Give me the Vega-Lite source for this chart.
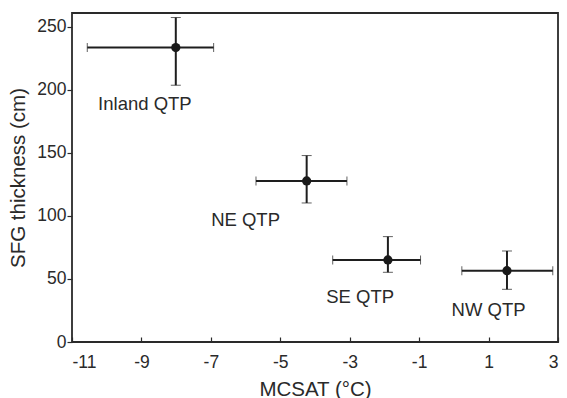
{
  "$schema": "https://vega.github.io/schema/vega-lite/v6.json",
  "width": 486,
  "height": 329,
  "autosize": "none",
  "padding": {"left": 72, "top": 13, "right": 9, "bottom": 56},
  "background": "white",
  "config": {
    "view": {"stroke": "#2a2a2a", "strokeWidth": 1.8},
    "font": "Liberation Sans",
    "axis": {"grid": false, "domain": false, "labelFont": "Liberation Sans", "titleFont": "Liberation Sans", "labelColor": "#2a2a2a", "titleColor": "#2a2a2a", "tickColor": "#2a2a2a", "labelFontSize": 17.5, "titleFontSize": 20.5, "titleFontWeight": "normal", "tickWidth": 1.2}
  },
  "data": {
    "values": [
      {"region": "Inland QTP", "x": -8.01, "xlo": -10.56, "xhi": -6.92, "y": 233.6, "ylo": 203.7, "yhi": 257.4, "lx": -8.9, "ly": 189},
      {"region": "NE QTP", "x": -4.24, "xlo": -5.70, "xhi": -3.08, "y": 127.8, "ylo": 110.3, "yhi": 147.9, "lx": -6.0, "ly": 97},
      {"region": "SE QTP", "x": -1.90, "xlo": -3.49, "xhi": -0.96, "y": 65.1, "ylo": 55.3, "yhi": 83.6, "lx": -2.7, "ly": 36},
      {"region": "NW QTP", "x": 1.53, "xlo": 0.23, "xhi": 2.85, "y": 56.6, "ylo": 41.8, "yhi": 72.2, "lx": 1.0, "ly": 25}
    ]
  },
  "layer": [
    {
      "mark": {"type": "errorbar", "ticks": {"size": 9, "color": "#1e1e1e", "strokeWidth": 2}, "rule": {"color": "#1e1e1e", "strokeWidth": 2}},
      "encoding": {
        "x": {"field": "xlo", "type": "quantitative", "title": "MCSAT (°C)", "scale": {"domain": [-11, 3], "nice": false, "zero": false},
          "axis": {"values": [-11, -9, -7, -5, -3, -1, 1, 3], "tickSize": -5, "labelPadding": 25, "labelExpr": "datum.value < 0 ? '-' + abs(datum.value) : '' + datum.value", "titleY": 47, "titleBaseline": "middle", "labelBaseline": "middle"}},
        "x2": {"field": "xhi"},
        "y": {"field": "y", "type": "quantitative", "title": "SFG thickness (cm)", "scale": {"domain": [0, 261], "nice": false},
          "axis": {"values": [0, 50, 100, 150, 200, 250], "tickSize": 5, "labelPadding": 1, "titleX": -54, "titleY": 164.5, "titleAngle": -90, "titleAlign": "center", "titleBaseline": "middle"}}
      }
    },
    {
      "mark": {"type": "errorbar", "ticks": {"size": 10, "color": "#1e1e1e", "strokeWidth": 2}, "rule": {"color": "#1e1e1e", "strokeWidth": 2}},
      "encoding": {
        "x": {"field": "x", "type": "quantitative", "title": "MCSAT (°C)"},
        "y": {"field": "ylo", "type": "quantitative", "title": "SFG thickness (cm)"},
        "y2": {"field": "yhi"}
      }
    },
    {
      "mark": {"type": "point", "filled": true, "size": 85, "color": "#1a1a1a", "opacity": 1},
      "encoding": {
        "x": {"field": "x", "type": "quantitative", "title": "MCSAT (°C)"},
        "y": {"field": "y", "type": "quantitative", "title": "SFG thickness (cm)"}
      }
    },
    {
      "mark": {"type": "text", "fontSize": 18.5, "color": "#2a2a2a", "font": "Liberation Sans", "align": "center", "baseline": "middle"},
      "encoding": {
        "x": {"field": "lx", "type": "quantitative", "title": "MCSAT (°C)"},
        "y": {"field": "ly", "type": "quantitative", "title": "SFG thickness (cm)"},
        "text": {"field": "region"}
      }
    }
  ]
}
